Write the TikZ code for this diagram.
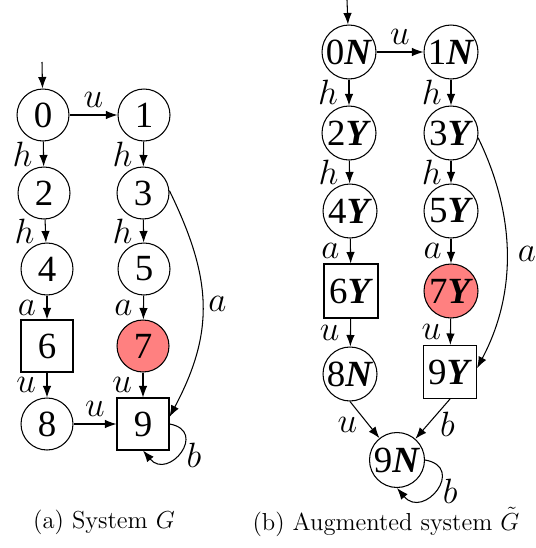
\RequirePackage{fix-cm}
\documentclass[tikz,border=0pt]{standalone}
\usepackage{fontspec}
\newfontfamily\statefont{Liberation Serif}
\usetikzlibrary{arrows.meta}

\tikzset{
	estado/.style={circle, draw, minimum size=1.04cm, inner sep=0pt, font=\statefont\fontsize{21}{21}\selectfont},
	estq/.style={rectangle, draw, minimum size=1.04cm, inner sep=0pt, font=\statefont\fontsize{21}{21}\selectfont},
	ruim/.style={fill=red!50},
	lig/.style={-{Latex[length=2.3mm,width=1.7mm]}},
	rot/.style={font=\fontsize{20}{20}\selectfont, inner sep=1pt},
	legenda/.style={font=\fontsize{14}{14}\selectfont}
}
\newcommand{\bN}{\textbf{\textit{N}}}
\newcommand{\bY}{\textbf{\textit{Y}}}

\begin{document}
\begin{tikzpicture}[x=0.02cm, y=0.02cm, semithick]
	\useasboundingbox (0,0) rectangle (535,-548);

	%sistema G
	\coordinate (i0) at (42,-62);
	\node[estado] (n0) at (43,-115) {0};
	\node[estado] (n1) at (144,-115) {1};
	\node[estado] (n2) at (44,-193) {2};
	\node[estado] (n3) at (143,-193) {3};
	\node[estado] (n4) at (47,-269) {4};
	\node[estado] (n5) at (144,-269) {5};
	\node[estq] (n6) at (47,-346) {6};
	\node[estado, ruim] (n7) at (143,-346) {7};
	\node[estado] (n8) at (47,-424) {8};
	\node[estq] (n9) at (143,-424) {9};

	\draw[lig] (i0) -- (n0);
	\draw[lig] (n0) -- node[rot, above, yshift=3pt] {$u$} (n1);
	\draw[lig] (n0) -- node[rot, left, xshift=-5pt] {$h$} (n2);
	\draw[lig] (n1) -- node[rot, left, xshift=-5pt] {$h$} (n3);
	\draw[lig] (n2) -- node[rot, left, xshift=-5pt] {$h$} (n4);
	\draw[lig] (n3) -- node[rot, left, xshift=-5pt] {$h$} (n5);
	\draw[lig] (n4) -- node[rot, left, xshift=-5pt] {$a$} (n6);
	\draw[lig] (n5) -- node[rot, left, xshift=-5pt] {$a$} (n7);
	\draw[lig] (n6) -- node[rot, left, xshift=-5pt] {$u$} (n8);
	\draw[lig] (n7) -- node[rot, left, xshift=-5pt] {$u$} (n9);
	\draw[lig] (n8) -- node[rot, above, yshift=3pt] {$u$} (n9);
	\draw[lig] (n3.5) to[out=-64, in=62, looseness=1.1] node[rot, pos=0.5, right, xshift=2pt] {$a$} (n9.15);
	\draw[lig] (n9.east) to[out=-10, in=-50, looseness=2.7] node[rot, pos=0.45, right, xshift=1pt, yshift=-4pt] {$b$} (n9.south);

	%sistema aumentado
	\coordinate (j0) at (347,0);
	\node[estado, minimum size=1.08cm] (m0) at (349,-52) {0\bN};
	\node[estado, minimum size=1.08cm] (m1) at (451,-52) {1\bN};
	\node[estado, minimum size=1.08cm] (m2) at (349,-133) {2\bY};
	\node[estado, minimum size=1.08cm] (m3) at (451,-133) {3\bY};
	\node[estado, minimum size=1.08cm] (m4) at (350,-211) {4\bY};
	\node[estado, minimum size=1.08cm] (m5) at (451,-211) {5\bY};
	\node[estq, minimum size=1.08cm] (m6) at (351,-291) {6\bY};
	\node[estado, ruim, minimum size=1.08cm] (m7) at (451,-291) {7\bY};
	\node[estado, minimum size=1.08cm] (m8) at (350,-374) {8\bN};
	\node[estq, minimum size=1.06cm] (m9) at (450,-372) {9\bY};
	\node[estado, minimum size=1.1cm] (m10) at (397,-460) {9\bN};

	\draw[lig] (j0) -- (m0);
	\draw[lig] (m0) -- node[rot, above, yshift=3pt] {$u$} (m1);
	\draw[lig] (m0) -- node[rot, left, xshift=-5pt] {$h$} (m2);
	\draw[lig] (m1) -- node[rot, left, xshift=-4pt] {$h$} (m3);
	\draw[lig] (m2) -- node[rot, left, xshift=-5pt] {$h$} (m4);
	\draw[lig] (m3) -- node[rot, left, xshift=-4pt] {$h$} (m5);
	\draw[lig] (m4) -- node[rot, left, xshift=-5pt] {$a$} (m6);
	\draw[lig] (m5) -- node[rot, left, xshift=-4pt] {$a$} (m7);
	\draw[lig] (m6) -- node[rot, left, xshift=-5pt] {$u$} (m8);
	\draw[lig] (m7) -- node[rot, left, xshift=-4pt] {$u$} (m9);
	\draw[lig] (m8.south) -- node[rot, left, xshift=-3pt, yshift=-3pt] {$u$} (m10);
	\draw[lig] (m9.south) -- node[rot, right, xshift=3pt, yshift=-3pt] {$b$} (m10);
	\draw[lig] (m3.-10) to[out=-64, in=62, looseness=0.95] node[rot, pos=0.5, right, xshift=5pt] {$a$} (m9.8);
	\draw[lig] (m10.east) to[out=-10, in=-50, looseness=2.7] node[rot, pos=0.45, right, xshift=1pt, yshift=-3pt] {$b$} (m10.south);

	%legendas
	\node[legenda] (la) at (104,-522) {(a) System $G$};
	\node[legenda] (lb) at (386,-522) {(b) Augmented system $\tilde{G}$};
\end{tikzpicture}
\end{document}
